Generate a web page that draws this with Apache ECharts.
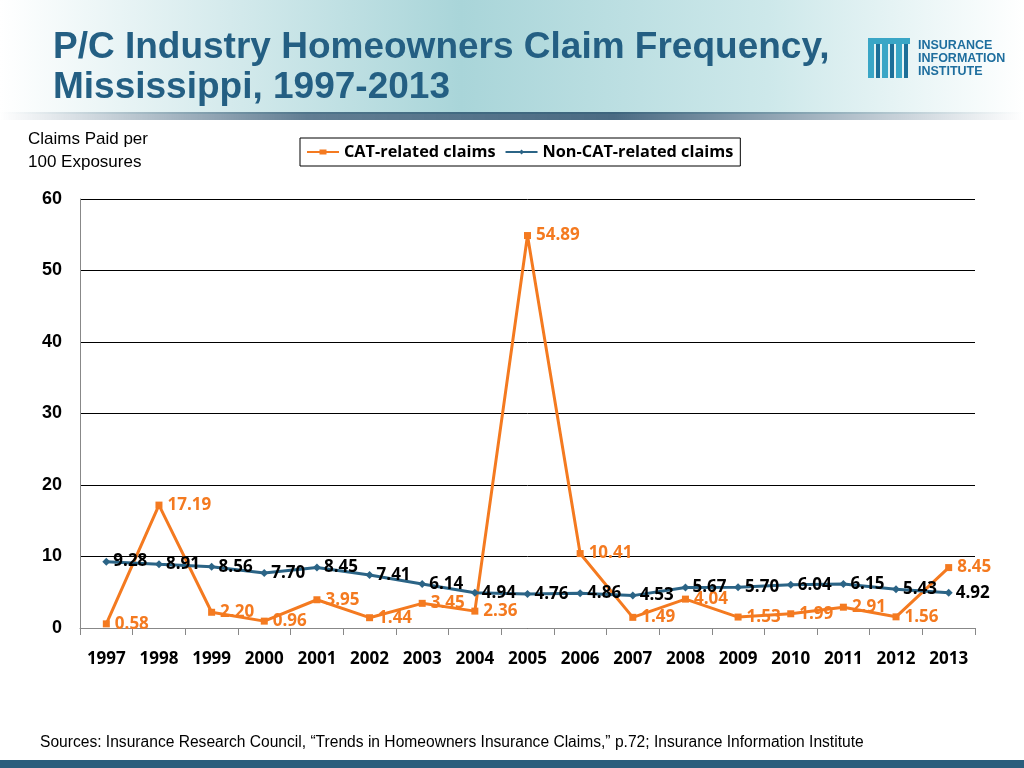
<!DOCTYPE html>
<html><head><meta charset="utf-8">
<script src="https://cdn.jsdelivr.net/npm/echarts@6/dist/echarts.min.js"></script>
<style>html,body{margin:0;padding:0;background:#fff}#c{width:1024px;height:768px}</style>
</head><body><div id="c"></div>
<script>
const years = ['1997','1998','1999','2000','2001','2002','2003','2004','2005','2006','2007','2008','2009','2010','2011','2012','2013'];
const catClaims = [0.58,17.19,2.20,0.96,3.95,1.44,3.45,2.36,54.89,10.41,1.49,4.04,1.53,1.99,2.91,1.56,8.45];
const nonCatClaims = [9.28,8.91,8.56,7.70,8.45,7.41,6.14,4.94,4.76,4.86,4.53,5.67,5.70,6.04,6.15,5.43,4.92];
const yTicks = [0,10,20,30,40,50,60];

const chart = echarts.init(document.getElementById('c'));
const orange = '#f47a20', blue = '#2b6486';
const lbl = '"Open Sans", Lato, sans-serif';
const logoBars = [];
[[868,'#3aa6c6'],[876,'#1d6f98'],[882,'#3aa6c6'],[890,'#1d6f98'],[896,'#3aa6c6'],[904,'#1d6f98']].forEach(([x,c],i)=>{
  logoBars.push({type:'rect',shape:{x:x,y:38+(i%2?6:0),width:i%2?4:6,height:i%2?34:40},style:{fill:c}});
});
chart.setOption({
  animation:false,
  graphic:[
    {type:'rect',shape:{x:0,y:0,width:1024,height:114},style:{fill:new echarts.graphic.LinearGradient(0,0,1,0,[{offset:0,color:'#ffffff'},{offset:0.45,color:'#a9d5d9'},{offset:0.75,color:'#cde8ea'},{offset:1,color:'#ffffff'}])},z:-10},
    {type:'rect',shape:{x:0,y:112,width:1024,height:8},style:{fill:new echarts.graphic.LinearGradient(0,0,1,0,[{offset:0,color:'rgba(30,70,100,0)'},{offset:0.3,color:'rgba(30,70,100,0.7)'},{offset:0.6,color:'rgba(30,70,100,0.8)'},{offset:1,color:'rgba(30,70,100,0)'}])},z:-9},
    {type:'text',left:53,top:28,style:{text:'P/C Industry Homeowners Claim Frequency,\nMississippi, 1997-2013',fill:'#245f83',font:'bold 37px "Liberation Sans", Arial',lineHeight:40}},
    {type:'rect',shape:{x:868,y:38,width:42,height:6},style:{fill:'#3aa6c6'}},
    ...logoBars,
    {type:'text',left:918,top:39,style:{text:'INSURANCE\nINFORMATION\nINSTITUTE',fill:'#1e6e9e',font:'bold 12.5px "Liberation Sans", Arial',lineHeight:13}},
    {type:'text',left:28,top:128,style:{text:'Claims Paid per\n100 Exposures',fill:'#000',font:'17px "Liberation Sans", Arial',lineHeight:23}},
    {type:'text',left:40,top:735,style:{text:'Sources: Insurance Research Council, \u201cTrends in Homeowners Insurance Claims,\u201d p.72; Insurance Information Institute',fill:'#000',font:'15.6px "Liberation Sans", Arial'}},
    {type:'rect',shape:{x:0,y:760,width:1024,height:8},style:{fill:'#2a5d7c'}}
  ],
  legend:{
    top:138,left:300,padding:[6,7,6,7],itemGap:10,
    borderColor:'#000',borderWidth:1,
    itemWidth:32,itemHeight:5,
    textStyle:{fontFamily:lbl,fontWeight:'bold',fontSize:16.3,color:'#000'},
    data:[{name:'CAT-related claims',icon:'path://M0,1.6H32V3.4H0Z M12.5,0H19.5V5H12.5Z'},{name:'Non-CAT-related claims',icon:'path://M0,1.6H32V3.4H0Z M16,0L18.5,2.5L16,5L13.5,2.5Z'}]
  },
  grid:{left:80,right:49,top:199,bottom:140,containLabel:false},
  xAxis:{type:'category',data:years,boundaryGap:true,
    axisLine:{lineStyle:{color:'#888'}},axisTick:{show:true,lineStyle:{color:'#888'},length:7},
    axisLabel:{fontFamily:lbl,fontWeight:'bold',fontSize:17,color:'#000',margin:23}},
  yAxis:{type:'value',min:0,max:60,interval:10,
    axisLine:{show:true,lineStyle:{color:'#888'}},axisTick:{show:false},
    splitLine:{lineStyle:{color:'#000',width:1}},
    axisLabel:{fontFamily:'"Liberation Sans", Arial',fontWeight:'bold',fontSize:18,color:'#000',margin:18,
      formatter:v=>yTicks.includes(v)?String(v):''}},
  series:[
    {name:'CAT-related claims',type:'line',data:catClaims,color:orange,
     lineStyle:{width:3,color:orange},symbol:'rect',symbolSize:7,itemStyle:{color:orange},
     label:{show:true,position:'right',distance:5,formatter:p=>p.value.toFixed(2),color:orange,fontFamily:lbl,fontWeight:'bold',fontSize:17},z:2},
    {name:'Non-CAT-related claims',type:'line',data:nonCatClaims,color:blue,
     lineStyle:{width:3,color:blue},symbol:'diamond',symbolSize:8,itemStyle:{color:blue},
     label:{show:true,position:'right',distance:3,formatter:p=>p.value.toFixed(2),color:'#000',fontFamily:lbl,fontWeight:'bold',fontSize:17},z:3}
  ]
});
</script></body></html>
